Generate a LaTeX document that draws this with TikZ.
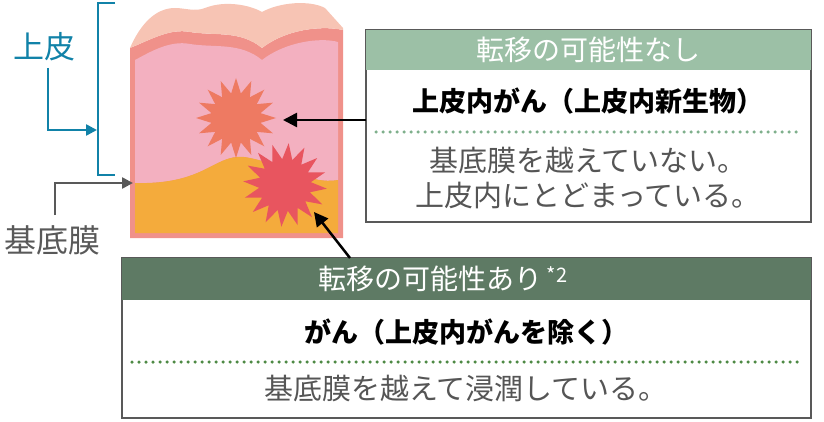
\documentclass[tikz,border=0pt]{standalone}
\usepackage{fontspec}
\setmainfont{Noto Sans CJK JP}
\usetikzlibrary{arrows.meta}
\definecolor{salmon}{HTML}{F0918A}
\definecolor{peach}{HTML}{F7C4B4}
\definecolor{pinkl}{HTML}{F3B0C0}
\definecolor{orng}{HTML}{F4AB3C}
\definecolor{star1}{HTML}{EE7A62}
\definecolor{star2}{HTML}{E8555F}
\definecolor{hdrA}{HTML}{9CC0A6}
\definecolor{hdrB}{HTML}{5E7A64}
\definecolor{dotg}{HTML}{7FB08C}
\definecolor{dotd}{HTML}{4E8A45}
\definecolor{blu}{HTML}{1182A8}
\definecolor{gry}{HTML}{595959}
\definecolor{txt}{HTML}{555555}
\tikzset{
 box/.style={draw=gry,line width=1.2pt,fill=white},
 hdr/.style={inner sep=0pt,text=white,font=\fontsize{28}{30}\selectfont},
 bold/.style={font=\bfseries\fontsize{27}{30}\selectfont,text=black},
 body/.style={font=\fontsize{29}{35}\selectfont,text=txt,align=center},
 arr/.style={line width=2.5pt,-{Triangle[length=14pt,width=14pt]}},
}
\begin{document}
\begin{tikzpicture}[x=1pt,y=-1pt]
\useasboundingbox (0,0) rectangle (824,422);
% skin
\fill[salmon] (130,48) .. controls (150,40) and (170,28) .. (190,32) .. controls (215,36) and (240,30) .. (262,48) .. controls (285,30) and (320,25) .. (343,30) -- (343,238) -- (130,238) -- cycle;
\fill[peach] (130,48) .. controls (140,25) and (155,8) .. (175,8) .. controls (185,8) and (195,12) .. (205,8) .. controls (225,0) and (250,5) .. (262,12) .. controls (280,2) and (310,0) .. (325,8) -- (343,28) -- (343,30) .. controls (320,25) and (285,30) .. (262,48) .. controls (240,30) and (215,36) .. (190,32) .. controls (170,28) and (150,40) .. (130,48) -- cycle;
\fill[pinkl] (135,60) .. controls (150,52) and (170,40) .. (190,44) .. controls (215,48) and (240,42) .. (262,60) .. controls (285,42) and (320,37) .. (338,42) -- (338,180) .. controls (310,185) and (285,165) .. (250,158) .. controls (215,150) and (210,185) .. (135,183) -- cycle;
\fill[orng] (135,183) .. controls (210,185) and (215,150) .. (250,158) .. controls (285,165) and (310,185) .. (338,180) -- (338,233) -- (135,233) -- cycle;
\fill[star1] plot[samples at={0,...,31},variable=\i] ({236+(mod(\i,2)==0?40:25)*cos(\i*11.25)},{118+(mod(\i,2)==0?40:25)*sin(\i*11.25)}) -- cycle;
\fill[star2] plot[samples at={0,...,31},variable=\i] ({285+(mod(\i,2)==0?42:26)*cos(\i*11.25+5)},{185+(mod(\i,2)==0?42:26)*sin(\i*11.25+5)}) -- cycle;
\coordinate (s1) at (283,120);
\coordinate (s2) at (314,212);
% left labels
\draw[blu,line width=2.5pt] (115,3) -- (98,3) -- (98,175) -- (115,175);
\node[text=blu,font=\fontsize{31}{34}\selectfont] (ue) at (44,47) {上皮};
\coordinate (bk) at (97,130);
\draw[blu,line width=2.5pt,-{Triangle[length=11pt,width=11pt]}] (48,68) -- (48,130) -- (bk);
\node[text=gry,font=\fontsize{32}{34}\selectfont] (kt) at (53,240) {基底膜};
\coordinate (bm) at (133,183);
\draw[gry,line width=2.5pt,-{Triangle[length=11pt,width=11pt]}] (55,215) -- (55,183) -- (bm);
% upper box
\draw[box] (366,30) rectangle (811,222);
\fill[hdrA] (366,30) rectangle (811,70);
\node[hdr] (h1) at (588,50) {転移の可能性なし};
\node[bold] (b1) at (588,101) {上皮内がん（上皮内新生物）};
\draw[dotg,line width=3.5pt,line cap=round,dash pattern=on 0pt off 7pt] (376,132) -- (801,132);
\node[body] (t1) at (588,178) {基底膜を越えていない。\\上皮内にとどまっている。};
\coordinate (a1) at (366,120);
\draw[arr] (a1) -- (s1);
% lower box
\draw[box] (122,258) rectangle (811,418);
\fill[hdrB] (122,258) rectangle (811,300);
\node[hdr,anchor=west] (h2) at (318,279) {転移の可能性あり\,{\fontsize{20}{22}\selectfont\raisebox{7pt}{*2}}};
\node[bold] (b2) at (466,332) {がん（上皮内がんを除く）};
\draw[dotd,line width=3.5pt,line cap=round,dash pattern=on 0pt off 7pt] (132,362) -- (801,362);
\node[body] (t2) at (466,389) {基底膜を越えて浸潤している。};
\coordinate (a2) at (350,258);
\draw[arr] (a2) -- (s2);
\end{tikzpicture}
\end{document}
